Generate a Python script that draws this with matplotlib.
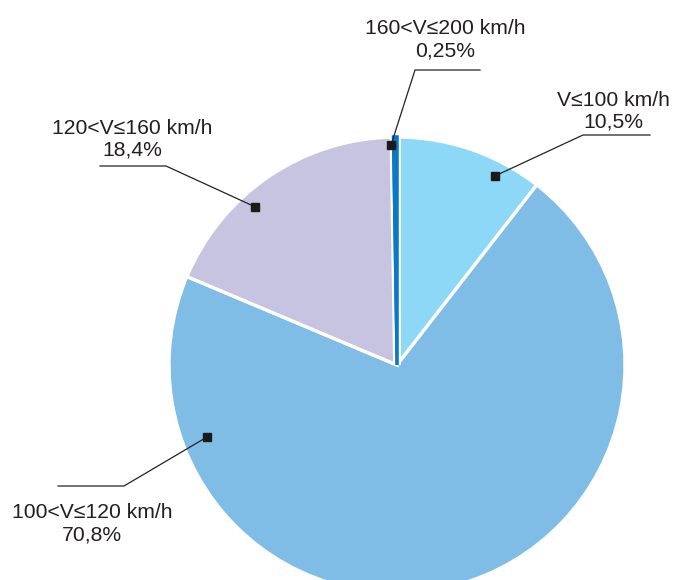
import matplotlib
matplotlib.use("Agg")
import matplotlib.pyplot as plt
import matplotlib.patheffects as pe
from matplotlib.patches import Circle
import numpy as np

plt.rcParams['font.family'] = ['Liberation Sans', 'DejaVu Sans']

categories = ["V≤100 km/h", "100<V≤120 km/h", "120<V≤160 km/h", "160<V≤200 km/h"]
shares = [10.5, 70.8, 18.4, 0.25]
share_labels = ["10,5%", "70,8%", "18,4%", "0,25%"]
colors = ["#8dd8f6", "#7fbde7", "#c7c4e2", "#0a78c8"]

W, H = 673, 580
fig = plt.figure(figsize=(W / 100, H / 100), dpi=100)
ax = fig.add_axes([0, 0, 1, 1])

cx, cy = 397, H - 365
R = 228
wedges, _ = ax.pie(shares, colors=colors, startangle=90, counterclock=False,
                   center=(cx, cy), radius=R, frame=True,
                   wedgeprops=dict(edgecolor="white", linewidth=2.4))

# keep the thin slice visible: outline it in its own colour inside a white
# halo, clipped to the disc so nothing sticks out past the rim
thin = wedges[-1]
thin.set_zorder(3)
thin.set_edgecolor(colors[-1])
thin.set_linewidth(2.2)
thin.set_path_effects([pe.Stroke(linewidth=5.6, foreground="white"),
                       pe.Stroke(linewidth=2.2, foreground=colors[-1]),
                       pe.Normal()])
disc = Circle((cx, cy), R, transform=ax.transData, facecolor="none",
              edgecolor="none")
ax.add_patch(disc)
thin.set_clip_path(disc)

ax.set_xlim(0, W)
ax.set_ylim(0, H)
ax.set_aspect("equal")
ax.axis("off")

# leader layout per slice: marker angle (deg) and radius fraction,
# elbow point, end of horizontal segment, text centre (pixels from top-left)
layout = [
    dict(ang=62.6, rf=0.934, elbow=(583, 135), end=(650, 135), text=(613, 111)),
    dict(ang=-159.25, rf=0.891, elbow=(124, 486), end=(58, 486), text=(92, 524)),
    dict(ang=131.9, rf=0.932, elbow=(166, 166), end=(100, 166), text=(132, 139)),
    dict(ang=91.56, rf=0.965, elbow=(415, 70), end=(480, 70), text=(445, 40)),
]

for cat, lab, lo in zip(categories, share_labels, layout):
    a = np.deg2rad(lo["ang"])
    mx = cx + lo["rf"] * R * np.cos(a)
    my = cy + lo["rf"] * R * np.sin(a)
    ex, ey = lo["elbow"][0], H - lo["elbow"][1]
    hx, hy = lo["end"][0], H - lo["end"][1]
    ax.plot([mx, ex, hx], [my, ey, hy], color="#222222", lw=0.9,
            solid_joinstyle="miter", zorder=5)
    ax.plot([mx], [my], marker="s", ms=5.5, color="#1a1a1a", zorder=6)
    tx, ty = lo["text"][0], H - lo["text"][1]
    ax.text(tx, ty, f"{cat}\n{lab}", ha="center", va="center",
            fontsize=15.2, color="#231f20", linespacing=1.2)

fig.savefig("out.png", dpi=100)
